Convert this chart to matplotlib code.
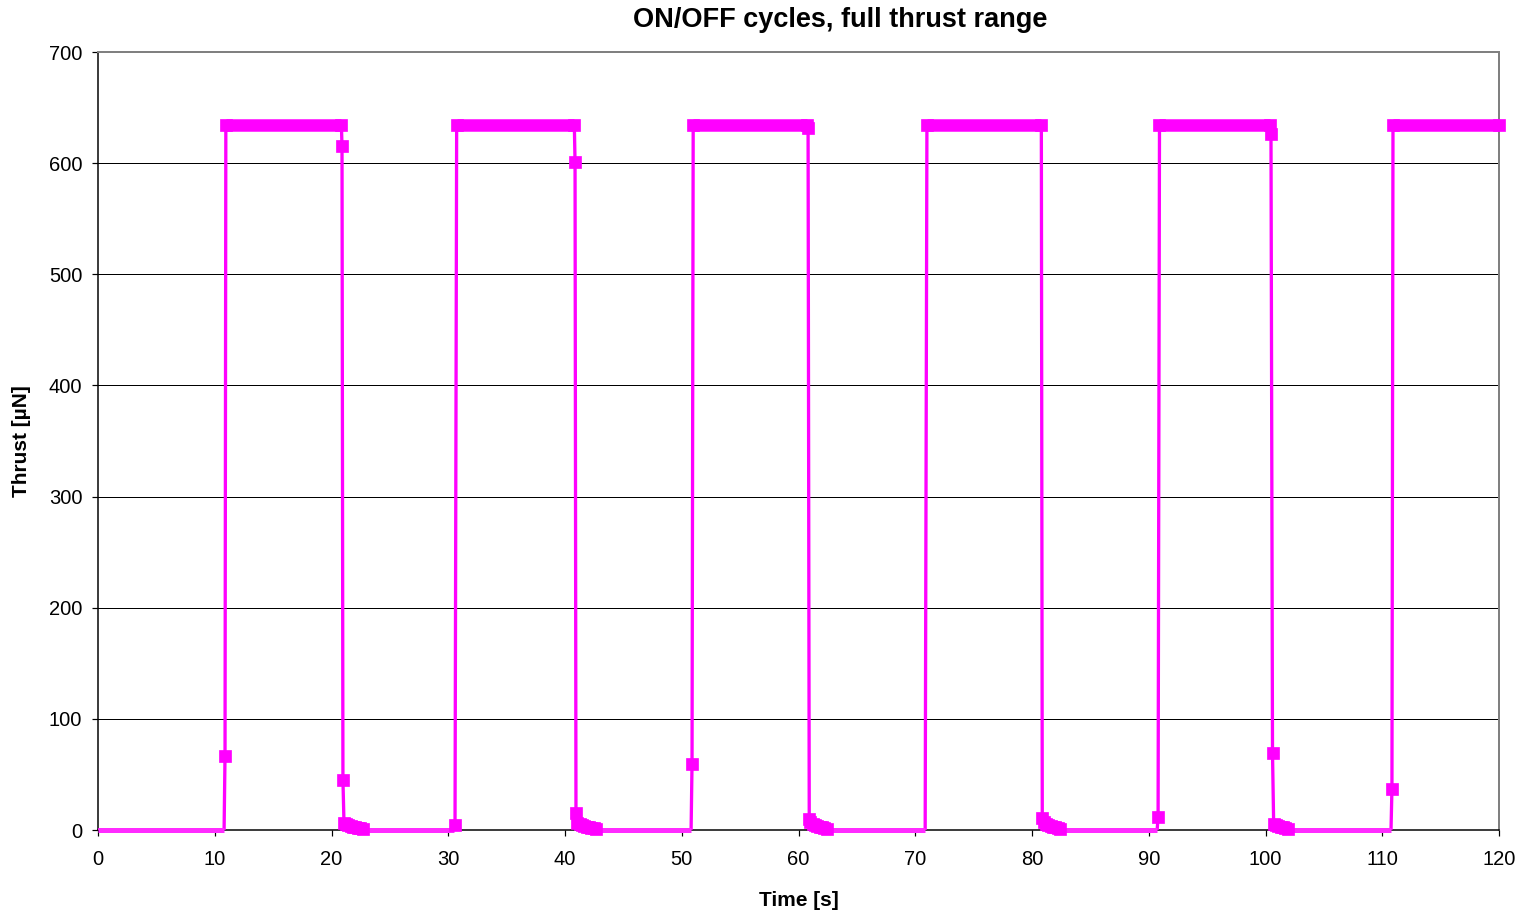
import matplotlib
matplotlib.use("Agg")
import matplotlib.pyplot as plt
import numpy as np

plt.rcParams['font.family'] = ['Liberation Sans', 'DejaVu Sans']

# ---- data ----
time = [0, 10.8, 10.88, 10.95, 20.85, 20.9, 20.98, 21.07, 21.25, 21.45, 21.65, 21.85, 22.05, 22.25, 22.45, 22.7, 23.0,
        30.5, 30.58, 30.72, 40.8, 40.86, 40.94, 41.05, 41.25, 41.45, 41.65, 41.85, 42.05, 42.25, 42.45, 42.65, 42.9,
        50.8, 50.88, 50.98, 60.76, 60.82, 60.92, 61.0, 61.2, 61.4, 61.6, 61.8, 62.0, 62.2, 62.45, 62.7,
        70.85, 71.0, 80.8, 80.88, 81.0, 81.2, 81.4, 81.6, 81.8, 82.0, 82.2, 82.4, 82.65,
        90.72, 90.8, 90.92, 100.4, 100.47, 100.6, 100.7, 100.9, 101.1, 101.3, 101.5, 101.7, 101.95, 102.2,
        110.75, 110.83, 110.92, 120]
thrust = [0, 0, 67, 634, 634, 615, 45, 6, 5, 4.2, 3.5, 2.9, 2.4, 2.0, 1.6, 1.2, 0,
          0, 4.5, 634, 634, 601, 15, 6, 5, 4.2, 3.5, 2.9, 2.4, 2.0, 1.6, 1.2, 0,
          0, 59, 634, 634, 632, 10, 7, 5.5, 4.5, 3.7, 3.0, 2.4, 1.9, 1.3, 0,
          0, 634, 634, 11, 7, 5.5, 4.5, 3.7, 3.0, 2.4, 1.9, 1.3, 0,
          0, 12, 634, 634, 626, 69, 5, 4.2, 3.5, 2.9, 2.3, 1.8, 1.2, 0,
          0, 37, 634, 634]

xticks = list(range(0, 121, 10))
yticks = list(range(0, 701, 100))

title = "ON/OFF cycles, full thrust range"
xlabel = "Time [s]"
ylabel = "Thrust [µN]"

# ---- figure ----
W, H = 1527, 913
fig = plt.figure(figsize=(W / 100, H / 100), dpi=100)
ax = fig.add_axes([98 / W, 1 - 830 / H, 1401 / W, 778 / H])

t = np.array(time, dtype=float)
v = np.array(thrust, dtype=float)
mag = '#ff00ff'
px = 0.72  # points per pixel at dpi 100

# main line
ax.plot(t, v, color=mag, lw=3.3 * px, zorder=3, solid_joinstyle='miter')

# off-level band (value 0)
off = v == 0
for i in range(len(t) - 1):
    if off[i] and off[i + 1]:
        ax.plot([t[i], t[i + 1]], [v[i], v[i + 1]], color='#ff2bff', lw=5 * px,
                solid_capstyle='butt', zorder=3, clip_on=False)

# plateau (dense samples drawn as a thick band)
for i in range(len(t) - 1):
    if v[i] == 634 and v[i + 1] == 634:
        ax.plot([t[i], t[i + 1]], [v[i], v[i + 1]], color=mag, lw=12.5 * px,
                solid_capstyle='butt', zorder=4)

# square markers on measured points
mk = v > 0
ax.plot(t[mk], v[mk], ls='none', marker='s', ms=12 * px, color=mag,
        markeredgecolor=mag, mew=0.5, zorder=5, clip_on=False)

ax.set_xlim(0, 120)
ax.set_ylim(0, 700)
ax.set_xticks(xticks)
ax.set_yticks(yticks)
ax.set_xticklabels([str(x) for x in xticks])
ax.set_yticklabels([str(y) for y in yticks])

ax.yaxis.grid(True, color='black', lw=1.0 * px, zorder=1)
ax.set_axisbelow(True)

for s in ['top', 'right']:
    ax.spines[s].set_color('#808080')
    ax.spines[s].set_linewidth(2 * px)
for s in ['left', 'bottom']:
    ax.spines[s].set_color('black')
    ax.spines[s].set_linewidth(1.5 * px)

ax.tick_params(axis='both', direction='out', length=6 * px, width=1.2 * px,
               colors='black', labelsize=14.5)
ax.tick_params(axis='x', pad=10)
ax.tick_params(axis='y', pad=7)

fig.text(840 / W, 1 - 20 / H, title, ha='center', va='center', fontsize=19.5, fontweight='bold')
fig.text(798.5 / W, 1 - 900 / H, xlabel, ha='center', va='center', fontsize=15, fontweight='bold')
fig.text(22 / W, 1 - 441 / H, ylabel, ha='center', va='center', rotation=90, fontsize=15, fontweight='bold')

fig.savefig('out.png', dpi=100, facecolor='white')
